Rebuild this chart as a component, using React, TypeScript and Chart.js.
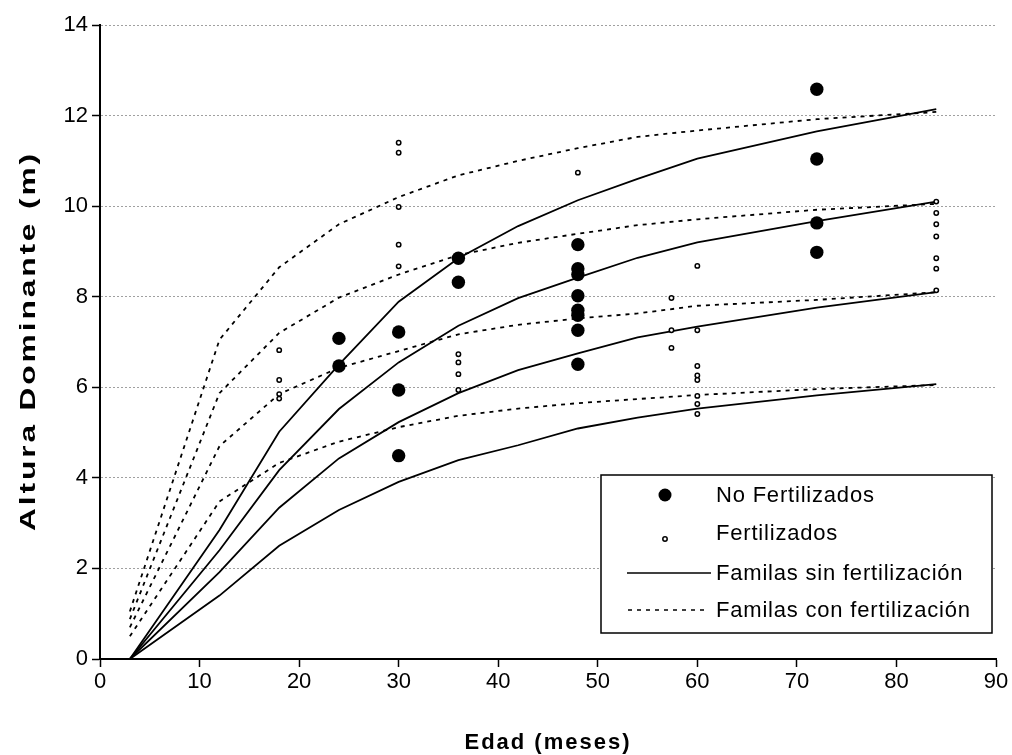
import React, { useEffect, useRef } from "react";
import { Chart, registerables } from "chart.js";

Chart.register(...registerables);

// Observed heights: unfertilized stands (large filled circles)
const noFertX = [24, 24, 30, 30, 30, 36, 36, 48, 48, 48, 48, 48, 48, 48, 48, 72, 72, 72, 72];
const noFertY = [7.08, 6.47, 7.22, 5.94, 4.49, 8.85, 8.32, 9.15, 8.62, 8.49, 8.02, 7.7, 7.59, 7.26, 6.51, 12.58, 11.04, 9.63, 8.98];

// Observed heights: fertilized stands (small open circles)
const fertX = [18, 18, 18, 18, 30, 30, 30, 30, 30, 36, 36, 36, 36, 48, 57.4, 57.4, 57.4, 60, 60, 60, 60, 60, 60, 60, 60, 84, 84, 84, 84, 84, 84, 84];
const fertY = [6.82, 6.16, 5.85, 5.75, 11.4, 11.18, 9.98, 9.15, 8.67, 6.73, 6.55, 6.29, 5.94, 10.74, 7.97, 7.26, 6.87, 8.68, 7.26, 6.47, 6.26, 6.16, 5.81, 5.63, 5.41, 10.1, 9.85, 9.6, 9.33, 8.85, 8.62, 8.14];

// Curve ages (months)
const curveAges = [3, 12, 18, 24, 30, 36, 42, 48, 54, 60, 72, 84];

// Families without fertilization (solid)
const sinFert1 = [0, 2.85, 5.02, 6.5, 7.89, 8.85, 9.56, 10.13, 10.6, 11.05, 11.65, 12.14];
const sinFert2 = [0, 2.4, 4.17, 5.52, 6.55, 7.36, 7.97, 8.42, 8.86, 9.2, 9.67, 10.1];
const sinFert3 = [0, 1.92, 3.34, 4.43, 5.23, 5.87, 6.38, 6.75, 7.1, 7.34, 7.76, 8.1];
const sinFert4 = [0, 1.4, 2.5, 3.29, 3.91, 4.39, 4.72, 5.09, 5.33, 5.53, 5.82, 6.07];

// Families with fertilization (dashed)
const conFert1 = [1.05, 7.05, 8.65, 9.6, 10.2, 10.68, 11.0, 11.28, 11.53, 11.67, 11.92, 12.08];
const conFert2 = [0.88, 5.87, 7.2, 7.98, 8.49, 8.92, 9.19, 9.39, 9.58, 9.71, 9.92, 10.05];
const conFert3 = [0.7, 4.7, 5.85, 6.43, 6.8, 7.17, 7.38, 7.52, 7.63, 7.8, 7.93, 8.1];
const conFert4 = [0.5, 3.48, 4.33, 4.8, 5.12, 5.37, 5.53, 5.65, 5.74, 5.83, 5.96, 6.05];

const legendLabels = ["No Fertilizados", "Fertilizados", "Familas sin fertilización", "Familas con fertilización"];
const xTitle = "Edad (meses)";
const yTitle = "Altura Dominante (m)";

const FONT = '"Liberation Sans", Arial, sans-serif';

const toPts = (xs: number[], ys: number[]) => xs.map((x, i) => ({ x, y: ys[i] }));

const titlesPlugin = {
  id: "axisTitles",
  afterDraw(chart: any) {
    const ctx = chart.ctx as CanvasRenderingContext2D;
    const a = chart.chartArea;
    ctx.save();
    ctx.fillStyle = "#000";
    ctx.font = `bold 22px ${FONT}`;
    (ctx as any).letterSpacing = "2px";
    ctx.textAlign = "center";
    ctx.textBaseline = "middle";
    // x title
    ctx.fillText(xTitle, (a.left + a.right) / 2, 743);
    // y title, stretched along its length like the source
    const w = ctx.measureText(yTitle).width;
    ctx.translate(29, (a.top + a.bottom) / 2 - 1);
    ctx.rotate(-Math.PI / 2);
    ctx.scale(380 / w, 1);
    ctx.fillText(yTitle, 0, 0);
    (ctx as any).letterSpacing = "0px";
    ctx.restore();
  },
};

const legendPlugin = {
  id: "customLegend",
  afterDraw(chart: any) {
    const ctx = chart.ctx as CanvasRenderingContext2D;
    const a = chart.chartArea;
    const L = a.right - 395;
    const T = a.top + 450;
    const W = 391;
    const H = 158;
    ctx.save();
    ctx.fillStyle = "#ffffff";
    ctx.fillRect(L, T, W, H);
    ctx.strokeStyle = "#000000";
    ctx.lineWidth = 1.5;
    ctx.strokeRect(L, T, W, H);

    const mx = L + 64;
    ctx.fillStyle = "#000";
    ctx.beginPath();
    ctx.arc(mx, T + 20, 6.5, 0, Math.PI * 2);
    ctx.fill();
    ctx.beginPath();
    ctx.fillStyle = "#fff";
    ctx.lineWidth = 1.5;
    ctx.arc(mx, T + 64, 2.2, 0, Math.PI * 2);
    ctx.fill();
    ctx.stroke();
    ctx.lineWidth = 1.6;
    ctx.beginPath();
    ctx.moveTo(L + 26, T + 98);
    ctx.lineTo(L + 110, T + 98);
    ctx.stroke();
    ctx.setLineDash([4, 5]);
    ctx.beginPath();
    ctx.moveTo(L + 27, T + 135);
    ctx.lineTo(L + 106, T + 135);
    ctx.stroke();
    ctx.setLineDash([]);

    ctx.fillStyle = "#000";
    ctx.font = `22px ${FONT}`;
    (ctx as any).letterSpacing = "0.8px";
    ctx.textAlign = "left";
    ctx.textBaseline = "alphabetic";
    const tx = L + 115;
    const bases = [T + 26.5, T + 65, T + 105, T + 142];
    legendLabels.forEach((s, i) => ctx.fillText(s, tx, bases[i]));
    (ctx as any).letterSpacing = "0px";
    ctx.restore();
  },
};

export default function App() {
  const ref = useRef<HTMLCanvasElement | null>(null);

  useEffect(() => {
    if (!ref.current) return;
    const solid = (data: number[]) => ({
      label: "sin",
      data: toPts(curveAges, data),
      showLine: true,
      borderColor: "#000",
      borderWidth: 1.8,
      pointRadius: 0,
      fill: false,
      tension: 0,
    });
    const dashed = (data: number[]) => ({
      label: "con",
      data: toPts(curveAges, data),
      showLine: true,
      borderColor: "#000",
      borderWidth: 1.8,
      borderDash: [4, 5],
      pointRadius: 0,
      fill: false,
      tension: 0,
    });
    const chart = new Chart(ref.current, {
      type: "scatter",
      data: {
        datasets: [
          {
            label: legendLabels[0],
            data: toPts(noFertX, noFertY),
            pointRadius: 6.7,
            pointBackgroundColor: "#000",
            pointBorderColor: "#000",
            pointBorderWidth: 0,
          },
          {
            label: legendLabels[1],
            data: toPts(fertX, fertY),
            pointRadius: 2.2,
            pointBackgroundColor: "#fff",
            pointBorderColor: "#000",
            pointBorderWidth: 1.5,
          },
          solid(sinFert1),
          solid(sinFert2),
          solid(sinFert3),
          solid(sinFert4),
          dashed(conFert1),
          dashed(conFert2),
          dashed(conFert3),
          dashed(conFert4),
        ] as any,
      },
      options: {
        animation: false,
        responsive: false,
        devicePixelRatio: 1,
        layout: { padding: { top: 25, right: 16, left: 0, bottom: 0 } },
        plugins: { legend: { display: false }, tooltip: { enabled: false } },
        scales: {
          x: {
            type: "linear",
            min: 0,
            max: 90,
            ticks: { stepSize: 10, color: "#000", font: { family: FONT, size: 22 }, padding: 2, maxRotation: 0 },
            grid: { drawOnChartArea: false, drawTicks: true, tickLength: 8, tickColor: "#000", tickWidth: 1.5, color: "#000" },
            border: { color: "#000", width: 2 },
            title: { display: false },
            afterFit: (s: any) => {
              s.height = 96;
            },
          },
          y: {
            type: "linear",
            min: 0,
            max: 14,
            ticks: { stepSize: 2, color: "#000", font: { family: FONT, size: 22 }, padding: 4 },
            grid: { color: "#a0a0a0", lineWidth: 1, drawTicks: true, tickLength: 8, tickColor: "#000", tickWidth: 1.5, tickBorderDash: [] },
            border: { color: "#000", width: 2, dash: [2, 2] },
            title: { display: false },
            afterFit: (s: any) => {
              s.width = 100;
            },
          },
        },
      } as any,
      plugins: [legendPlugin, titlesPlugin],
    });
    return () => chart.destroy();
  }, []);

  return (
    <div style={{ position: "absolute", left: 0, top: 0, width: 1012, height: 755, background: "#fff" }}>
      <canvas ref={ref} width={1012} height={755} style={{ display: "block" }} />
    </div>
  );
}
